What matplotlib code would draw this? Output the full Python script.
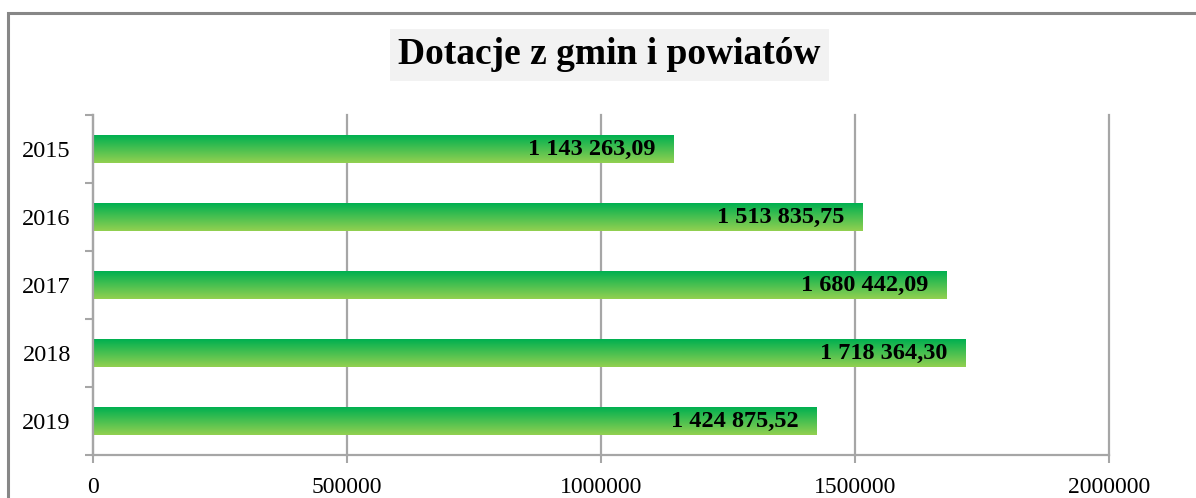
import numpy as np
import matplotlib
matplotlib.use("Agg")
from matplotlib import pyplot as plt
from matplotlib.patches import Rectangle

years = ["2015", "2016", "2017", "2018", "2019"]
values = [1143263.09, 1513835.75, 1680442.09, 1718364.30, 1424875.52]
xticks = [0, 500000, 1000000, 1500000, 2000000]
title = "Dotacje z gmin i powiatów"

top_color = np.array([0, 176, 80]) / 255.0
bottom_color = np.array([146, 208, 80]) / 255.0
grid_color = "#a6a6a6"


def fmt_pl(v):
    s = "{:,.2f}".format(v)
    return s.replace(",", " ").replace(".", ",")


plt.rcParams['font.family'] = ['Liberation Serif', 'DejaVu Serif']

fig = plt.figure(figsize=(11.96, 4.98), dpi=100)
ax = fig.add_axes([93 / 1196, 1 - 455 / 498, (1109 - 93) / 1196, (455 - 115) / 498])

# outer frame (cut off by the picture edge on the right and bottom)
fig.patches.append(Rectangle((8 / 1196, -0.2), 1.2, 1 - 13 / 498 + 0.2,
                             transform=fig.transFigure, fill=False,
                             edgecolor="#878787", linewidth=2.2, zorder=0))

ypos = np.arange(len(years))
h = 0.4
bars = ax.barh(ypos, values, height=h, color="none", zorder=2)

grad = np.linspace(0, 1, 64)[:, None, None]
grad = top_color * (1 - grad) + bottom_color * grad
for y, v in zip(ypos, values):
    ax.imshow(grad, extent=[0, v, y + h / 2, y - h / 2], origin="upper",
              aspect="auto", zorder=2, interpolation="bilinear")
    ax.annotate(fmt_pl(v), xy=(v, y), xytext=(-13, 0), textcoords="offset points",
                ha="right", va="center", fontsize=17.5, fontweight="bold",
                zorder=3)

ax.set_xlim(0, 2000000)
ax.set_ylim(len(years) - 0.5, -0.5)

ax.set_xticks(xticks)
ax.set_xticklabels([str(t) for t in xticks], fontsize=17)
ax.set_yticks(ypos)
ax.set_yticklabels(years, fontsize=17.5)
ax.set_yticks(np.arange(len(years) + 1) - 0.5, minor=True)
ax.tick_params(axis="y", which="major", length=0, pad=16)
ax.tick_params(axis="y", which="minor", length=6, width=1.5, color=grid_color)
ax.tick_params(axis="x", length=6, width=1.5, color=grid_color, pad=10)

ax.grid(axis="x", color=grid_color, linewidth=1.6, zorder=1)
for line in ax.get_xgridlines():
    line.set_clip_on(False)
ax.set_axisbelow(True)
for side in ["top", "right"]:
    ax.spines[side].set_visible(False)
for side in ["left", "bottom"]:
    ax.spines[side].set_color(grid_color)
    ax.spines[side].set_linewidth(1.6)

fig.text(609 / 1196, 1 - 55 / 498, title, ha="center", va="center",
         fontsize=27, fontweight="bold",
         bbox=dict(facecolor="#f2f2f2", edgecolor="none", pad=6))

fig.savefig("out.png", dpi=100)
